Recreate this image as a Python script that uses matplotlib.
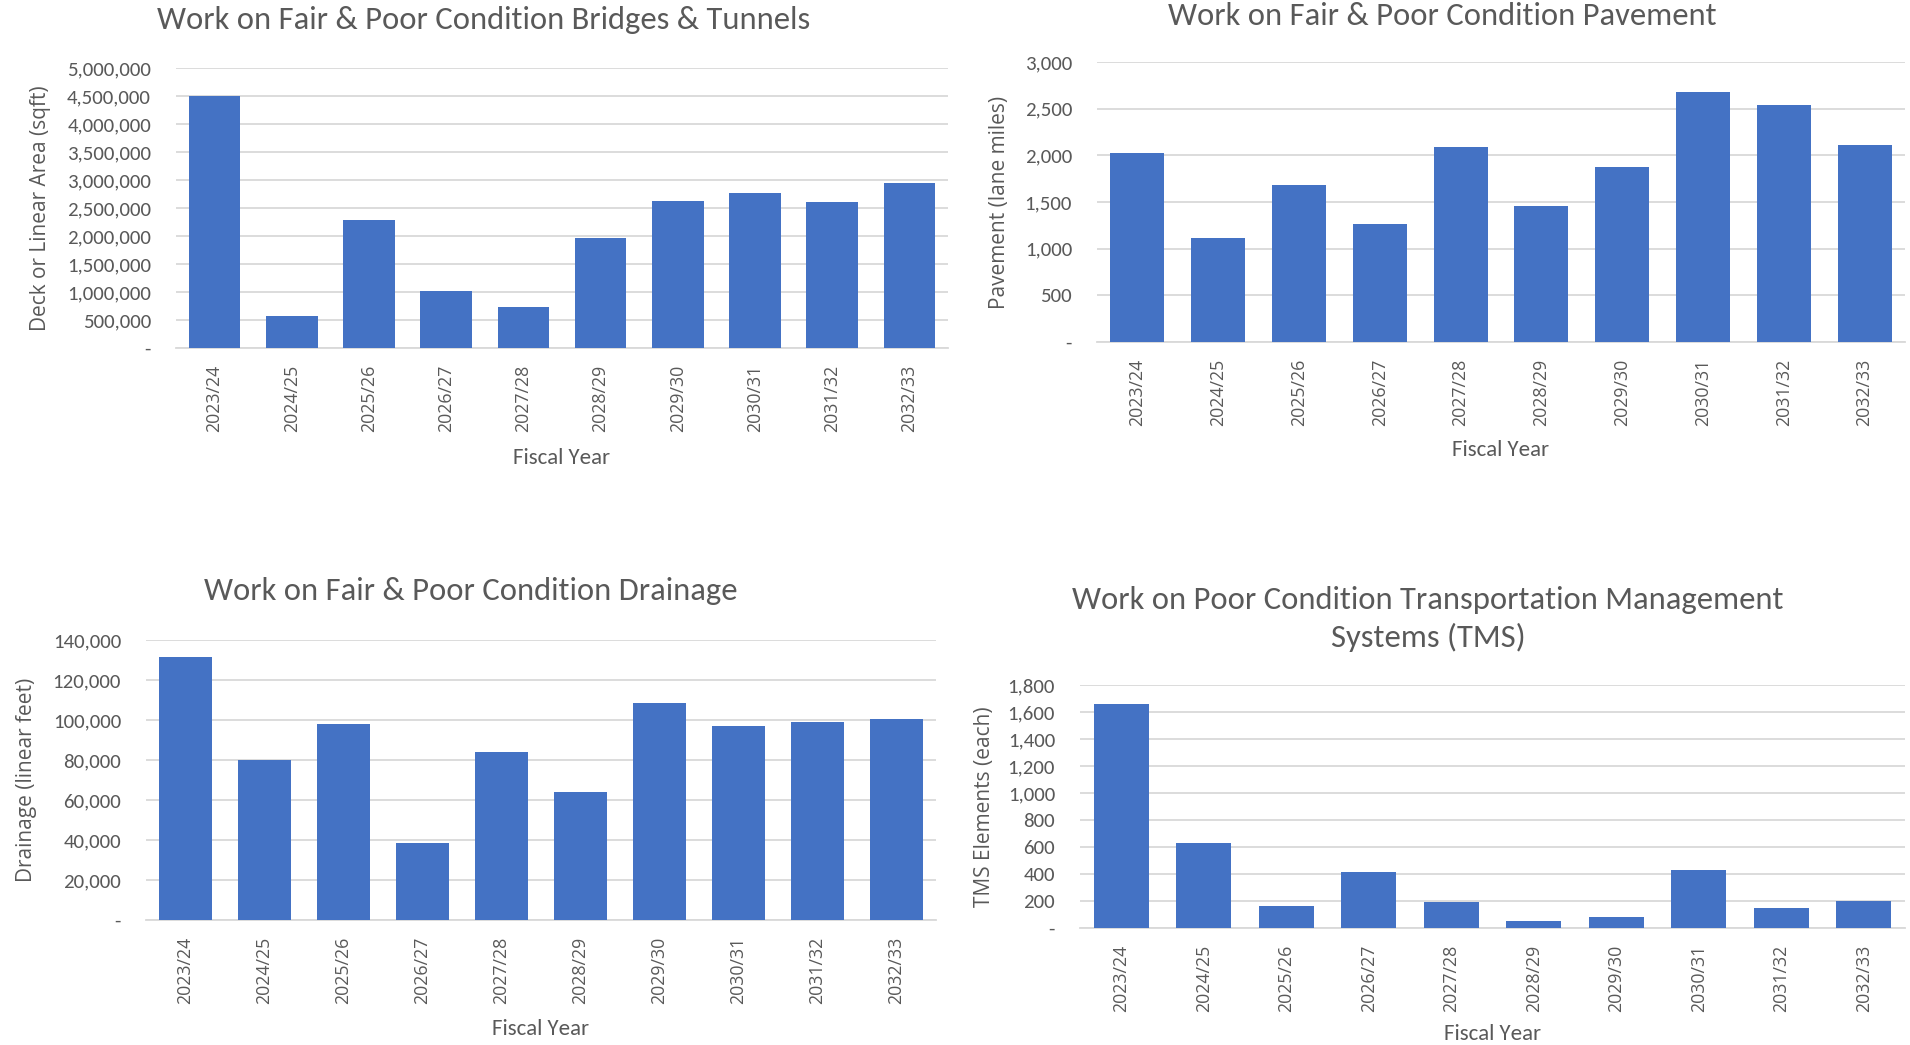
import matplotlib
matplotlib.use('Agg')
import matplotlib.pyplot as plt
from matplotlib.ticker import FuncFormatter
import numpy as np

years = ['2023/24', '2024/25', '2025/26', '2026/27', '2027/28',
         '2028/29', '2029/30', '2030/31', '2031/32', '2032/33']

bridges = [4500000, 577000, 2286000, 1010000, 738000,
           1970000, 2630000, 2760000, 2600000, 2946000]
pavement = [2027, 1110, 1685, 1265, 2088, 1455, 1879, 2681, 2544, 2106]
drainage = [131660, 80100, 97950, 38380, 83770,
            64240, 108630, 97120, 98780, 100450]
tms = [1657, 627, 163, 416, 191, 55, 83, 431, 148, 203]

W, H = 1910, 1045
bar_color = '#4472C4'
grid_color = '#D9D9D9'
text_color = '#595959'
calibri = ['Carlito', 'DejaVu Sans']
segoe = ['Open Sans', 'DejaVu Sans']

def fmt(v, pos):
    if abs(v) < 1e-9:
        return '-'
    return f'{v:,.0f}'

# box = plot area in pixels (left, right, top, bottom); title is centred on the chart area
def panel(fig, box, vals, ymax, ystep, title, ylabel, title_xy, ylabel_x, xlabel_y):
    left, right, top, bottom = box
    ax = fig.add_axes([left / W, 1 - bottom / H, (right - left) / W, (bottom - top) / H])
    x = np.arange(len(years))
    ax.bar(x, vals, width=0.67, color=bar_color, zorder=3)
    ax.set_xlim(-0.5, len(years) - 0.5)
    ax.set_ylim(0, ymax)
    ax.set_yticks(np.arange(0, ymax + ystep / 2, ystep))
    ax.yaxis.set_major_formatter(FuncFormatter(fmt))
    ax.grid(axis='y', color=grid_color, linewidth=1.3, zorder=0)
    for s in ['top', 'right', 'left']:
        ax.spines[s].set_visible(False)
    ax.spines['bottom'].set_color(grid_color)
    ax.spines['bottom'].set_linewidth(1.3)
    ax.tick_params(length=0, colors=text_color)
    ax.set_xticks(x)
    ax.set_xticklabels(years, rotation=90, fontsize=12.8, color=text_color, family=segoe)
    for lab in ax.get_yticklabels():
        lab.set_family(calibri)
        lab.set_fontsize(15)
    ax.tick_params(axis='x', pad=12)
    ax.tick_params(axis='y', pad=18)
    ax.set_ylabel(ylabel, fontsize=15, color=text_color, family=segoe)
    ax.yaxis.set_label_coords((ylabel_x - left) / (right - left), 0.5)
    ax.set_xlabel('Fiscal Year', fontsize=16.5, color=text_color, family=calibri)
    ax.xaxis.set_label_coords(0.5, (bottom - xlabel_y) / (bottom - top))
    ax.xaxis.label.set_va('center')
    ax.yaxis.label.set_va('center')
    tx, ty = title_xy
    fig.text(tx / W, 1 - ty / H, title, ha='center', va='center',
             fontsize=23.5, color=text_color, family=calibri, linespacing=1.35)
    return ax

fig = plt.figure(figsize=(W / 100, H / 100), dpi=100)

panel(fig, (176, 948, 68, 348), bridges, 5000000, 500000,
      'Work on Fair & Poor Condition Bridges & Tunnels',
      'Deck or Linear Area (sqft)', (484, 20), 40, 458)
panel(fig, (1097, 1905, 62, 342), pavement, 3000, 500,
      'Work on Fair & Poor Condition Pavement',
      'Pavement (lane miles)', (1442, 16), 999, 450)
panel(fig, (146, 936, 640, 920), drainage, 140000, 20000,
      'Work on Fair & Poor Condition Drainage',
      'Drainage (linear feet)', (471, 591), 27, 1029)
panel(fig, (1080, 1905, 685, 928), tms, 1800, 200,
      'Work on Poor Condition Transportation Management\nSystems (TMS)',
      'TMS Elements (each)', (1428, 619), 984, 1034)

fig.savefig('out.png', dpi=100, facecolor='white')
